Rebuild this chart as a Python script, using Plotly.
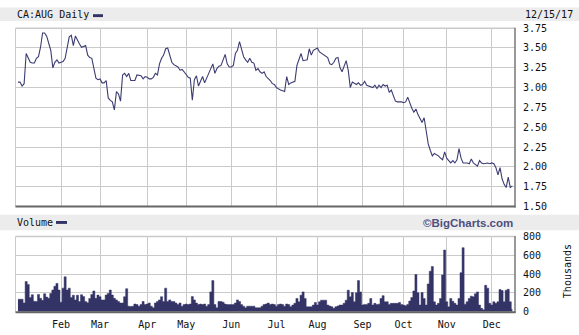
import pandas as pd
import plotly.graph_objects as go

# ---------------- data ----------------
holidays = ["2017-02-20", "2017-04-14", "2017-05-22", "2017-07-03",
            "2017-08-07", "2017-09-04", "2017-10-09"]
month_names = ["Jan", "Feb", "Mar", "Apr", "May", "Jun", "Jul", "Aug",
               "Sep", "Oct", "Nov", "Dec"]

price_jan = [3.07, 3.07, 3.02, 3.05, 3.43, 3.37, 3.32, 3.31, 3.31, 3.37, 3.39,
             3.51, 3.69, 3.69, 3.65, 3.56, 3.47, 3.25, 3.32, 3.35, 3.31]
price_feb = [3.32, 3.33, 3.37, 3.53, 3.64, 3.66, 3.53, 3.65, 3.59, 3.55, 3.51,
             3.52, 3.53, 3.41, 3.38, 3.37, 3.24, 3.12, 3.10]
price_mar = [3.11, 3.06, 3.06, 3.09, 2.87, 2.84, 2.82, 2.72, 2.95, 2.92, 2.83,
             3.16, 3.18, 3.14, 3.18, 3.09, 3.09, 3.09, 3.16, 3.15, 3.15, 3.11, 3.14]
price_apr = [3.13, 3.11, 3.11, 3.13, 3.18, 3.16, 3.30, 3.37, 3.41, 3.49, 3.50,
             3.39, 3.32, 3.29, 3.28, 3.26, 3.22, 3.23, 3.20]
price_may = [3.16, 3.13, 3.12, 2.84, 3.10, 3.15, 3.02, 3.07, 3.14, 3.06, 3.12,
             3.16, 3.22, 3.30, 3.18, 3.24, 3.27, 3.28, 3.35, 3.42, 3.30, 3.26]
price_jun = [3.26, 3.28, 3.43, 3.47, 3.58, 3.47, 3.39, 3.35, 3.32, 3.37, 3.32,
             3.31, 3.22, 3.24, 3.20, 3.18, 3.20, 3.14, 3.12, 3.09, 3.05, 3.04]
price_jul = [3.00, 2.98, 2.97, 2.96, 2.95, 3.14, 3.04, 3.06, 3.07, 3.08, 3.28,
             3.37, 3.43, 3.34, 3.35, 3.35, 3.49, 3.41, 3.47, 3.49]
price_aug = [3.50, 3.45, 3.43, 3.42, 3.39, 3.38, 3.30, 3.29, 3.32, 3.37, 3.38,
             3.25, 3.20, 3.26, 3.34, 3.22, 3.00, 3.07, 3.06, 3.04, 3.06, 3.03]
price_sep = [3.04, 3.08, 3.03, 3.02, 3.01, 3.00, 3.03, 2.99, 3.03, 3.00, 3.04,
             3.02, 3.03, 2.94, 2.97, 2.90, 2.83, 2.82, 2.82, 2.82]
price_oct = [2.81, 2.82, 2.88, 2.80, 2.74, 2.69, 2.73, 2.66, 2.60, 2.56, 2.62,
             2.45, 2.29, 2.21, 2.14, 2.17, 2.16, 2.14, 2.11, 2.09, 2.19]
price_nov = [2.11, 2.08, 2.05, 2.08, 2.05, 2.09, 2.23, 2.11, 2.05, 2.05, 2.05,
             2.04, 2.10, 2.05, 2.03, 2.01, 2.08, 2.05, 2.04, 2.05, 2.05, 2.04]
price_dec = [2.05, 2.04, 1.99, 1.90, 1.99, 1.85, 1.78, 1.74, 1.87, 1.74, 1.76]

vol_jan = [132, 132, 132, 92, 320, 290, 150, 180, 110, 108, 183, 142, 120, 190,
           155, 142, 193, 230, 270, 300, 230]
vol_feb = [100, 250, 370, 230, 250, 150, 175, 125, 175, 108, 180, 160, 108, 95,
           140, 183, 220, 142, 176]
vol_mar = [159, 125, 125, 176, 193, 230, 176, 142, 125, 108, 92, 92, 159, 244,
           58, 55, 58, 81, 75, 58, 75, 108, 75]
vol_apr = [81, 92, 58, 41, 92, 108, 125, 159, 108, 250, 108, 125, 108, 108, 92,
           75, 92, 58, 75]
vol_may = [81, 75, 81, 160, 125, 92, 75, 81, 75, 81, 58, 75, 210, 330, 75, 41,
           108, 108, 100, 81, 75, 75]
vol_jun = [75, 75, 92, 125, 108, 75, 58, 41, 58, 58, 58, 58, 41, 41, 41, 58, 75,
           81, 92, 75, 81, 75]
vol_jul = [58, 75, 81, 75, 58, 81, 75, 52, 70, 88, 140, 105, 175, 210, 140, 52,
           52, 52, 70, 98]
vol_aug = [70, 105, 122, 122, 122, 70, 60, 52, 35, 52, 60, 70, 70, 88, 122, 228,
           158, 203, 105, 200, 330, 210]
vol_sep = [70, 77, 77, 88, 140, 70, 88, 77, 80, 140, 170, 105, 105, 77, 88, 88,
           88, 88, 98, 77]
vol_oct = [70, 63, 77, 112, 150, 220, 395, 200, 70, 203, 140, 70, 295, 430, 480,
           105, 70, 88, 140, 390, 655]
vol_nov = [105, 52, 140, 110, 88, 70, 140, 415, 680, 80, 105, 140, 165, 158, 190,
           210, 70, 35, 20, 280, 250, 88]
vol_dec = [70, 105, 88, 105, 235, 225, 105, 228, 238, 105, 25]

prices_by_month = [price_jan, price_feb, price_mar, price_apr, price_may, price_jun,
                   price_jul, price_aug, price_sep, price_oct, price_nov, price_dec]
volumes_by_month = [vol_jan, vol_feb, vol_mar, vol_apr, vol_may, vol_jun,
                    vol_jul, vol_aug, vol_sep, vol_oct, vol_nov, vol_dec]

# ---------------- build series on a trading-day axis ----------------
days = pd.bdate_range("2017-01-03", "2017-12-15")
days = days[~days.isin(pd.to_datetime(holidays))]

idx, price, volume = [], [], []
tickvals, ticktext = [], []
i = 0
for m in range(12):
    mdays = days[days.month == m + 1]
    pv = prices_by_month[m]
    vv = volumes_by_month[m]
    n = min(len(mdays), len(pv), len(vv))
    if m > 0:
        tickvals.append(i)
        ticktext.append(month_names[m])
    for k in range(n):
        idx.append(i)
        price.append(pv[k])
        volume.append(vv[k])
        i += 1

W, H = 579, 335
def px(x):
    return x / W
def py(y):
    return 1 - y / H

GRID = "#cacaca"
NAVY = "#333366"
FONT = "DejaVu Sans Mono"

fig = go.Figure()
fig.add_trace(go.Scatter(x=idx, y=price, mode="lines",
                         line=dict(color="#3c3c72", width=1.1),
                         xaxis="x", yaxis="y", hoverinfo="skip"))
# volume as a solid stepped area (bars with no gaps)
fig.add_trace(go.Scatter(x=idx, y=volume, mode="lines", line_shape="hvh",
                         line=dict(color=NAVY, width=0.5),
                         fill="tozeroy", fillcolor=NAVY,
                         xaxis="x2", yaxis="y2", hoverinfo="skip"))

xr = [-1.2, i + 0.3]
xdom = [px(15.5), px(515)]
fig.update_layout(
    width=W, height=H, margin=dict(l=0, r=0, t=0, b=0),
    paper_bgcolor="white", plot_bgcolor="white", showlegend=False,
    font=dict(family=FONT, size=10, color="#111111"),
    xaxis=dict(domain=xdom, range=xr, anchor="y", tickvals=tickvals,
               showticklabels=False, showgrid=True, gridcolor=GRID, gridwidth=1,
               zeroline=False, showline=False, ticks=""),
    yaxis=dict(domain=[py(208), py(23)], range=[1.5, 3.75], dtick=0.25,
               tick0=1.5, tickformat=".2f", side="right", anchor="x",
               showgrid=True, gridcolor=GRID, zeroline=False, showline=False,
               ticks="", ticklabelstandoff=7,
               tickfont=dict(family=FONT, size=10, color="#111111")),
    xaxis2=dict(domain=xdom, range=xr, anchor="y2", tickvals=tickvals,
                ticktext=ticktext, showgrid=True, gridcolor=GRID, zeroline=False,
                showline=False, ticks="", ticklabelstandoff=5,
                tickfont=dict(family=FONT, size=10, color="#111111")),
    yaxis2=dict(domain=[py(317), py(239)], range=[0, 800], dtick=200,
                side="right", anchor="x2", showgrid=True, gridcolor=GRID,
                zeroline=False, showline=False, ticks="", ticklabelstandoff=7,
                tickfont=dict(family=FONT, size=10, color="#111111")),
)

shapes = []
# header bands
shapes.append(dict(type="rect", xref="paper", yref="paper", x0=0, x1=1,
                   y0=py(15.5), y1=py(1.5), fillcolor="#ececec", line=dict(width=0),
                   layer="below"))
shapes.append(dict(type="rect", xref="paper", yref="paper", x0=0, x1=1,
                   y0=py(232.5), y1=py(216.5), fillcolor="#ececec", line=dict(width=0),
                   layer="below"))
# legend dashes
shapes.append(dict(type="rect", xref="paper", yref="paper", x0=px(93), x1=px(103),
                   y0=py(11.5), y1=py(8.5), fillcolor=NAVY, line=dict(width=0)))
shapes.append(dict(type="rect", xref="paper", yref="paper", x0=px(56), x1=px(67),
                   y0=py(226), y1=py(223), fillcolor=NAVY, line=dict(width=0)))
# panel borders
for top, bot in [(23, 208), (239, 317.5)]:
    shapes.append(dict(type="line", xref="paper", yref="paper", x0=px(15.5), x1=px(15.5),
                       y0=py(bot), y1=py(top), line=dict(color=GRID, width=1)))
    shapes.append(dict(type="line", xref="paper", yref="paper", x0=px(15.5), x1=px(515),
                       y0=py(top), y1=py(top), line=dict(color=GRID, width=1.5)))
    shapes.append(dict(type="line", xref="paper", yref="paper", x0=px(515), x1=px(515),
                       y0=py(bot + 1), y1=py(top - 0.5), line=dict(color="#777777", width=1.5)))
    shapes.append(dict(type="line", xref="paper", yref="paper", x0=px(15.5), x1=px(515.5),
                       y0=py(bot), y1=py(bot), line=dict(color="#666666", width=2)))
fig.update_layout(shapes=shapes)

ann = [
    dict(text="CA:AUG Daily", x=px(15), y=py(9), xanchor="left", yanchor="middle"),
    dict(text="12/15/17", x=px(523), y=py(9), xanchor="left", yanchor="middle"),
    dict(text="Volume", x=px(15), y=py(225), xanchor="left", yanchor="middle"),
    dict(text="<b>©BigCharts.com</b>", x=px(514.5), y=py(225), xanchor="right",
         yanchor="middle", font=dict(family="Liberation Sans", size=11.5, color="#4f4f7e")),
    dict(text="Thousands", x=px(567), y=py(275), xanchor="center", yanchor="middle",
         textangle=-90),
]
for a in ann:
    a.setdefault("font", dict(family=FONT, size=10, color="#111111"))
    a.update(xref="paper", yref="paper", showarrow=False)
fig.update_layout(annotations=ann)

fig.write_html("out.html")
